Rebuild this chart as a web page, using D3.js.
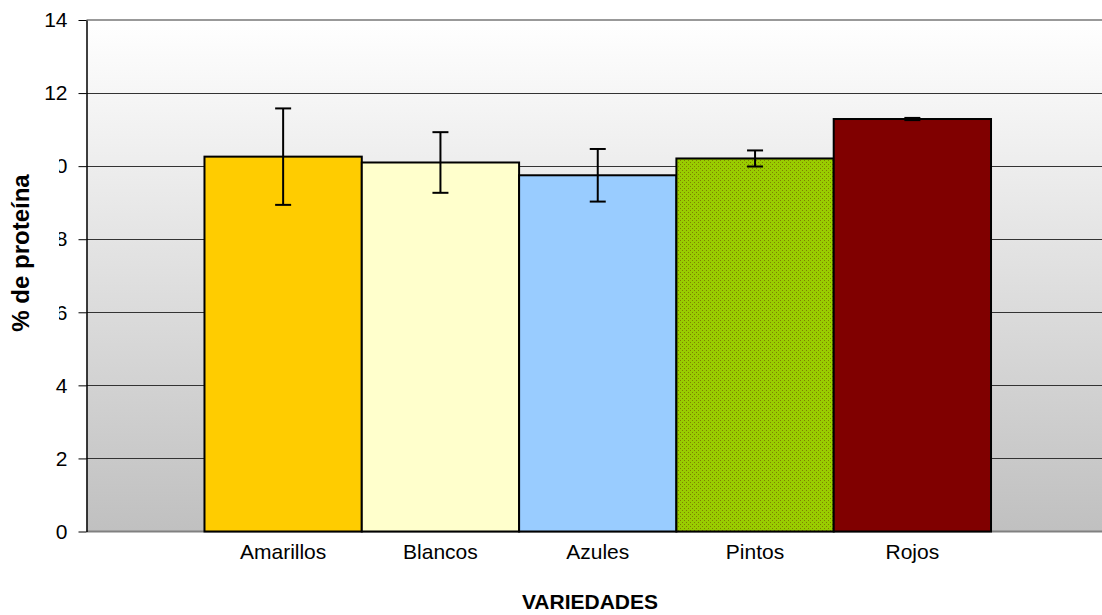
<!DOCTYPE html>
<html>
<head>
<meta charset="utf-8">
<script src="https://cdn.jsdelivr.net/npm/d3@7"></script>
<style>
  html, body { margin: 0; padding: 0; background: #fff; }
  svg { display: block; font-family: Arial, "Liberation Sans", sans-serif; }
</style>
</head>
<body>
<div id="chart"></div>
<script>
const categories = ["Amarillos", "Blancos", "Azules", "Pintos", "Rojos"];
const proteinValues = [10.26, 10.10, 9.75, 10.21, 11.29];
const errorValues = [1.32, 0.83, 0.72, 0.22, 0.03];
const yTicks = [0, 2, 4, 6, 8, 10, 12, 14];

const W = 1102, H = 615;
const plot = { left: 86.5, right: 1109, top: 20, bottom: 531.5 };

const svg = d3.select("#chart")
    .append("svg")
    .attr("width", W)
    .attr("height", H);

const defs = svg.append("defs");

const grad = defs.append("linearGradient")
    .attr("id", "bg-grad")
    .attr("x1", 0).attr("y1", 0)
    .attr("x2", 0).attr("y2", 1);
grad.append("stop").attr("offset", "0%").attr("stop-color", "#ffffff");
grad.append("stop").attr("offset", "100%").attr("stop-color", "#c0c0c0");

// dotted green fill used for Pintos
const pat = defs.append("pattern")
    .attr("id", "pintos-pat")
    .attr("patternUnits", "userSpaceOnUse")
    .attr("width", 4)
    .attr("height", 4);
pat.append("rect").attr("width", 4).attr("height", 4).attr("fill", "#99cc00");
pat.append("rect").attr("x", 0).attr("y", 0).attr("width", 1).attr("height", 1).attr("fill", "#808000");
pat.append("rect").attr("x", 2).attr("y", 2).attr("width", 1).attr("height", 1).attr("fill", "#808000");

const barColors = ["#ffcc00", "#ffffcc", "#99ccff", "url(#pintos-pat)", "#800000"];

const x = d3.scaleBand()
    .domain(categories)
    .range([plot.left, plot.right])
    .paddingInner(0)
    .paddingOuter(0.75);

const y = d3.scaleLinear()
    .domain([0, 14])
    .range([plot.bottom, plot.top]);

// plot background
svg.append("rect")
    .attr("x", plot.left)
    .attr("y", plot.top)
    .attr("width", W - plot.left)
    .attr("height", plot.bottom - plot.top)
    .attr("fill", "url(#bg-grad)");

// gridlines
svg.selectAll(".grid")
    .data(yTicks.filter(d => d > 0 && d < 14))
    .enter().append("line")
    .attr("class", "grid")
    .attr("x1", plot.left)
    .attr("x2", W)
    .attr("y1", d => Math.round(y(d)) + 0.5)
    .attr("y2", d => Math.round(y(d)) + 0.5)
    .attr("stroke", "#333")
    .attr("stroke-width", 1);

// top and bottom border
svg.append("line")
    .attr("x1", plot.left).attr("x2", W)
    .attr("y1", y(14)).attr("y2", y(14))
    .attr("stroke", "#999").attr("stroke-width", 2);
svg.append("line")
    .attr("x1", plot.left).attr("x2", W)
    .attr("y1", y(0)).attr("y2", y(0))
    .attr("stroke", "#808080").attr("stroke-width", 2);

// bars
svg.selectAll(".bar")
    .data(categories)
    .enter().append("rect")
    .attr("class", "bar")
    .attr("x", d => x(d))
    .attr("y", (d, i) => y(proteinValues[i]))
    .attr("width", x.bandwidth())
    .attr("height", (d, i) => y(0) - y(proteinValues[i]))
    .attr("fill", (d, i) => barColors[i])
    .attr("stroke", "#000")
    .attr("stroke-width", 2);

// error bars
const cap = 8;
const err = svg.selectAll(".err")
    .data(categories)
    .enter().append("g")
    .attr("class", "err")
    .attr("stroke", "#000")
    .attr("stroke-width", 2);
err.append("line")
    .attr("x1", d => x(d) + x.bandwidth() / 2)
    .attr("x2", d => x(d) + x.bandwidth() / 2)
    .attr("y1", (d, i) => y(proteinValues[i] + errorValues[i]))
    .attr("y2", (d, i) => y(proteinValues[i] - errorValues[i]));
err.append("line")
    .attr("x1", d => x(d) + x.bandwidth() / 2 - cap)
    .attr("x2", d => x(d) + x.bandwidth() / 2 + cap)
    .attr("y1", (d, i) => y(proteinValues[i] + errorValues[i]))
    .attr("y2", (d, i) => y(proteinValues[i] + errorValues[i]));
err.append("line")
    .attr("x1", d => x(d) + x.bandwidth() / 2 - cap)
    .attr("x2", d => x(d) + x.bandwidth() / 2 + cap)
    .attr("y1", (d, i) => y(proteinValues[i] - errorValues[i]))
    .attr("y2", (d, i) => y(proteinValues[i] - errorValues[i]));

// y axis
const yAxis = svg.append("g")
    .attr("transform", `translate(${plot.left},0)`)
    .call(d3.axisLeft(y).tickValues(yTicks).tickSize(8).tickPadding(11).tickSizeOuter(0));
yAxis.select(".domain").attr("stroke", "#000").attr("stroke-width", 1.5);
yAxis.selectAll(".tick line").attr("stroke", "#000");
yAxis.selectAll(".tick text")
    .style("font-size", "21px")
    .style("font-family", "Arial, 'Liberation Sans', sans-serif")
    .attr("fill", "#000");

// x labels
svg.selectAll(".xlab")
    .data(categories)
    .enter().append("text")
    .attr("class", "xlab")
    .attr("x", d => x(d) + x.bandwidth() / 2)
    .attr("y", 559)
    .attr("text-anchor", "middle")
    .style("font-size", "21px")
    .text(d => d);

// axis titles
svg.append("text")
    .attr("x", 590)
    .attr("y", 609)
    .attr("text-anchor", "middle")
    .style("font-size", "21px")
    .style("font-weight", "bold")
    .text("VARIEDADES");

// the title box sits over the tick labels, as in the original
svg.append("rect")
    .attr("x", 0)
    .attr("y", 148)
    .attr("width", 59)
    .attr("height", 200)
    .attr("fill", "#fff");

svg.append("text")
    .attr("transform", "translate(29,253) rotate(-90)")
    .attr("text-anchor", "middle")
    .style("font-size", "24px")
    .style("font-weight", "bold")
    .text("% de proteína");
</script>
</body>
</html>
